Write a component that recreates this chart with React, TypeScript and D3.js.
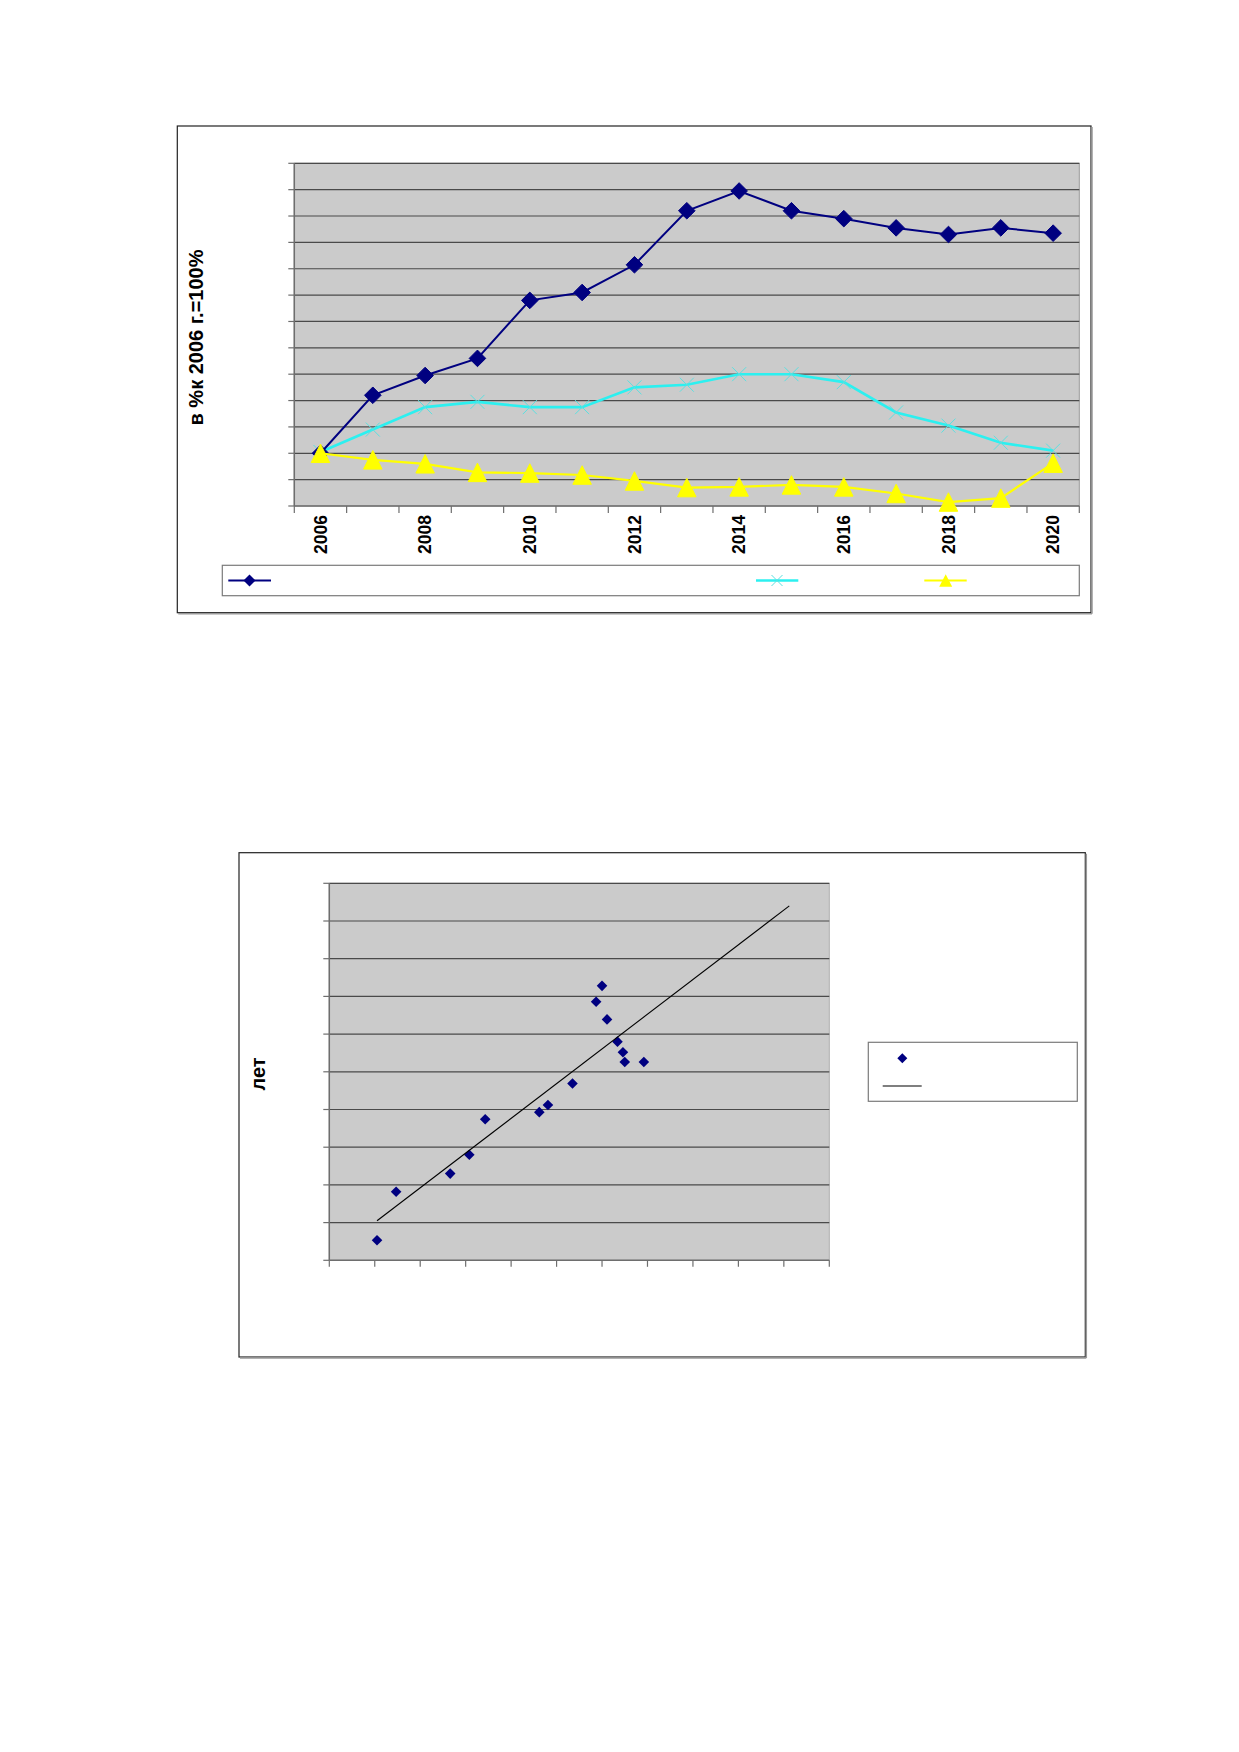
import React from 'react';
import * as d3 from 'd3';

// ---------- Chart 1 data ----------
const years = [2006, 2007, 2008, 2009, 2010, 2011, 2012, 2013, 2014, 2015, 2016, 2017, 2018, 2019, 2020];
const seriesNavy = [100, 144, 159, 172, 216, 222, 243, 284, 299, 284, 278, 271, 266, 271, 267];
const seriesCyan = [101, 118, 135, 139, 135, 135, 150, 152, 160, 160, 154, 131, 121, 108, 102];
const seriesYellow = [100, 95, 92, 85.5, 85, 83.5, 79, 74, 74.5, 76, 74.5, 69.5, 63, 66, 92.5];
const yTicks1 = [60, 80, 100, 120, 140, 160, 180, 200, 220, 240, 260, 280, 300, 320];
const xLabelYears = [2006, 2008, 2010, 2012, 2014, 2016, 2018, 2020];
const yTitle1 = 'в %к 2006 г.=100%';

// ---------- Chart 2 data ----------
const scatterX = [1.05, 1.47, 2.66, 3.08, 3.43, 4.62, 4.81, 5.35, 5.87, 6.0, 6.11, 6.34, 6.46, 6.5, 6.92];
const scatterY = [0.53, 1.82, 2.3, 2.8, 3.74, 3.93, 4.12, 4.69, 6.86, 7.28, 6.39, 5.8, 5.52, 5.26, 5.26];
const xTicks2 = [0, 1, 2, 3, 4, 5, 6, 7, 8, 9, 10, 11];
const yTicks2 = [0, 1, 2, 3, 4, 5, 6, 7, 8, 9, 10];
const trendForward = 3.2;
const yTitle2 = 'лет';

const FONT = '"Liberation Sans", Arial, sans-serif';
const GRID = '#4a4a4a';
const PLOT_BG = '#cbcbcb';

const diamond = (r: number) => `M0,${-r}L${r},0L0,${r}L${-r},0Z`;
const triangle = (w: number, h: number) => `M0,${-h / 2}L${w / 2},${h / 2}L${-w / 2},${h / 2}Z`;
const cross = (r: number) => `M${-r},${-r}L${r},${r}M${-r},${r}L${r},${-r}`;

function Frame({ x0, y0, x1, y1 }: { x0: number; y0: number; x1: number; y1: number }) {
  return (
    <g>
      <rect x={x0} y={y0} width={x1 - x0} height={y1 - y0} fill="#fff" stroke="#222" strokeWidth={1.2} />
      <line x1={x0 + 1} x2={x1 + 1} y1={y1 + 1} y2={y1 + 1} stroke="#999" strokeWidth={1.5} />
      <line x1={x1 + 1} x2={x1 + 1} y1={y0 + 1} y2={y1 + 1} stroke="#999" strokeWidth={1.5} />
    </g>
  );
}

function Chart1() {
  const L = 294.3, R = 1079.3, T = 163.3, B = 506;
  const x = d3.scaleBand<number>().domain(years).range([L, R]).padding(0);
  const bw = x.bandwidth();
  const cx = (yr: number) => (x(yr) as number) + bw / 2;
  const y = d3.scaleLinear().domain([60, 320]).range([B, T]);
  const line = d3.line<number>().x((_, i) => cx(years[i])).y((v) => y(v));
  const boundaries = [...years.map((yr) => x(yr) as number), R];

  return (
    <g>
      <Frame x0={177.3} y0={126} x1={1091} y1={612.7} />
      <rect x={L} y={T} width={R - L} height={B - T} fill={PLOT_BG} stroke="#9a9a9a" strokeWidth={1} />
      {yTicks1.slice(1).map((t) => (
        <line key={t} x1={L} x2={R} y1={y(t)} y2={y(t)} stroke={GRID} strokeWidth={1.2} />
      ))}
      {/* y axis */}
      <line x1={L} x2={L} y1={T} y2={B} stroke="#6e6e6e" strokeWidth={1.5} />
      {yTicks1.map((t) => (
        <line key={t} x1={L - 6} x2={L} y1={y(t)} y2={y(t)} stroke="#6e6e6e" strokeWidth={1.2} />
      ))}
      {/* x axis */}
      <line x1={L} x2={R} y1={B} y2={B} stroke="#6e6e6e" strokeWidth={1.5} />
      {boundaries.map((bx, i) => (
        <line key={i} x1={bx} x2={bx} y1={B} y2={B + 7} stroke="#6e6e6e" strokeWidth={1.2} />
      ))}
      {xLabelYears.map((yr) => (
        <text
          key={yr}
          transform={`translate(${cx(yr)},${B + 9}) rotate(-90)`}
          textAnchor="end"
          dy="0.36em"
          fontFamily={FONT}
          fontWeight="bold"
          fontSize={17.5}
          fill="#000"
        >
          {yr}
        </text>
      ))}
      <text
        transform={`translate(196,337.5) rotate(-90)`}
        textAnchor="middle"
        dy="0.36em"
        fontFamily={FONT}
        fontWeight="bold"
        fontSize={20}
        fill="#000"
      >
        {yTitle1}
      </text>

      {/* cyan series */}
      <path d={line(seriesCyan) as string} fill="none" stroke="#2cf0f0" strokeWidth={2.6} />
      {seriesCyan.map((v, i) => (
        <path key={i} d={cross(7)} transform={`translate(${cx(years[i])},${y(v)})`} fill="none" stroke="#5ce0e0" strokeWidth={1} />
      ))}
      {/* navy series */}
      <path d={line(seriesNavy) as string} fill="none" stroke="#000080" strokeWidth={2} />
      {seriesNavy.map((v, i) => (
        <path key={i} d={diamond(8.3)} transform={`translate(${cx(years[i])},${y(v)})`} fill="#000080" stroke="#000080" strokeWidth={1} />
      ))}
      {/* yellow series */}
      <path d={line(seriesYellow) as string} fill="none" stroke="#ffff00" strokeWidth={2.2} />
      {seriesYellow.map((v, i) => (
        <path key={i} d={triangle(18.5, 18.5)} transform={`translate(${cx(years[i])},${y(v)})`} fill="#ffff00" stroke="#ffff00" strokeWidth={1} />
      ))}

      {/* legend */}
      <rect x={222.3} y={565.3} width={1079.3 - 222.3} height={30.4} fill="#fff" stroke="#7a7a7a" strokeWidth={1.2} />
      <line x1={228.3} x2={271} y1={580.5} y2={580.5} stroke="#000080" strokeWidth={2} />
      <path d={diamond(6)} transform="translate(249.5,580.5)" fill="#000080" />
      <line x1={756} x2={798.3} y1={580.5} y2={580.5} stroke="#2cf0f0" strokeWidth={2.6} />
      <path d={cross(5.5)} transform="translate(777,580.5)" fill="none" stroke="#5ce0e0" strokeWidth={1} />
      <line x1={924.3} x2={966.7} y1={580.5} y2={580.5} stroke="#ffff00" strokeWidth={2.2} />
      <path d={triangle(13, 12.5)} transform="translate(945.7,580.5)" fill="#ffff00" />
    </g>
  );
}

function Chart2() {
  const L = 329.3, R = 829.3, T = 883.3, B = 1260.3;
  const x = d3.scaleLinear().domain([0, 11]).range([L, R]);
  const y = d3.scaleLinear().domain([0, 10]).range([B, T]);

  const mx = d3.mean(scatterX) as number;
  const my = d3.mean(scatterY) as number;
  const sxy = d3.sum(scatterX, (v, i) => (v - mx) * (scatterY[i] - my));
  const sxx = d3.sum(scatterX, (v) => (v - mx) * (v - mx));
  const slope = sxy / sxx;
  const intercept = my - slope * mx;
  const x0 = d3.min(scatterX) as number;
  const x1 = (d3.max(scatterX) as number) + trendForward;
  const trend = d3.line<number>().x((v) => x(v)).y((v) => y(intercept + slope * v));

  return (
    <g>
      <Frame x0={239} y0={852.7} x1={1085.3} y1={1357} />
      <rect x={L} y={T} width={R - L} height={B - T} fill={PLOT_BG} stroke="#b0b0b0" strokeWidth={1} />
      {yTicks2.slice(1).map((t) => (
        <line key={t} x1={L} x2={R} y1={y(t)} y2={y(t)} stroke={GRID} strokeWidth={1.2} />
      ))}
      <line x1={L} x2={L} y1={T} y2={B} stroke="#6e6e6e" strokeWidth={1.5} />
      {yTicks2.map((t) => (
        <line key={t} x1={L - 6} x2={L} y1={y(t)} y2={y(t)} stroke="#6e6e6e" strokeWidth={1.2} />
      ))}
      <line x1={L} x2={R} y1={B} y2={B} stroke="#6e6e6e" strokeWidth={1.5} />
      {xTicks2.map((t) => (
        <line key={t} x1={x(t)} x2={x(t)} y1={B} y2={B + 6.5} stroke="#6e6e6e" strokeWidth={1.2} />
      ))}
      <text
        transform={`translate(257.5,1074) rotate(-90)`}
        textAnchor="middle"
        dy="0.36em"
        fontFamily={FONT}
        fontWeight="bold"
        fontSize={20}
        fill="#000"
      >
        {yTitle2}
      </text>

      {scatterX.map((v, i) => (
        <path key={i} d={diamond(5.3)} transform={`translate(${x(v)},${y(scatterY[i])})`} fill="#000080" />
      ))}
      <path d={trend([x0, x1]) as string} fill="none" stroke="#000" strokeWidth={1.1} />

      {/* legend */}
      <rect x={868.3} y={1042.3} width={209} height={59} fill="#fff" stroke="#7a7a7a" strokeWidth={1.2} />
      <path d={diamond(5)} transform="translate(902.3,1058.3)" fill="#000080" />
      <line x1={882.7} x2={921.7} y1={1086} y2={1086} stroke="#555" strokeWidth={1.5} />
    </g>
  );
}

export default function App() {
  return (
    <div style={{ position: 'absolute', left: 0, top: 0 }}>
      <svg width={1239} height={1752} viewBox="0 0 1239 1752" style={{ display: 'block', background: '#fff' }}>
        <Chart1 />
        <Chart2 />
      </svg>
    </div>
  );
}
